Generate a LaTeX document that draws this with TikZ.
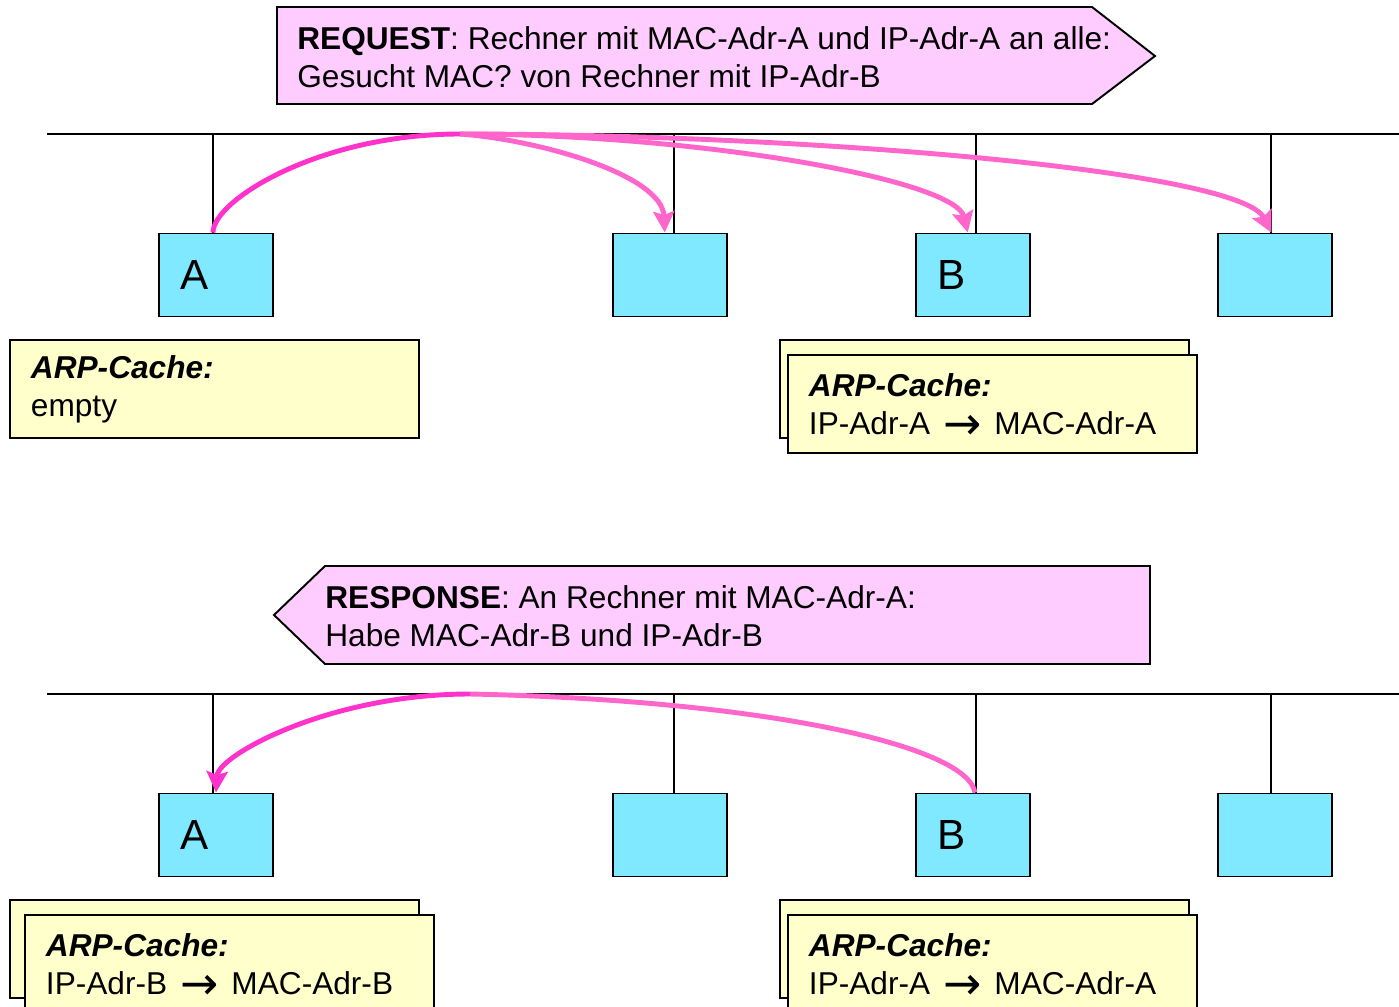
\documentclass[tikz,border=0pt]{standalone}
\usepackage{fontspec}
\setmainfont{Liberation Sans}
\newfontfamily\arrowfont{DejaVu Sans}
\usetikzlibrary{arrows.meta, positioning}
\definecolor{hostcyan}{HTML}{80E8FF}
\definecolor{msgpink}{HTML}{FFCCFF}
\definecolor{cacheyellow}{HTML}{FFFFCC}
\definecolor{framepink}{HTML}{FF66CC}
\definecolor{framemagenta}{HTML}{FF33CC}
\newcommand{\mapsarrow}{\hspace{0.26cm}\smash{\raisebox{-0.1cm}{\arrowfont\fontsize{26}{26}\selectfont →}}\hspace{0.26cm}}
\tikzset{
x=0.02cm, y=-0.02cm, % one unit is one pixel, y runs downwards
wire/.style={line width=1.1pt}, % bus and the drop lines
frame/.style={line width=2.8pt, framepink}, % the pink ARP frames
tip/.style={-{Stealth[length=12pt, width=12pt, inset=2pt]}}, % arrow head of a frame
}

\begin{document}
\begin{tikzpicture}[font=\fontsize{18}{21.6}\selectfont,
    host/.style = {draw, line width=1.1pt, fill=hostcyan, minimum width=2.28cm, minimum height=1.66cm,
                   inner xsep=0.42cm, text width=1.44cm, align=left, font=\fontsize{24}{28}\selectfont},
    cache/.style = {draw, line width=1.1pt, fill=cacheyellow, minimum width=8.18cm, minimum height=1.96cm,
                    inner xsep=0.42cm, text width=7.34cm, align=left},
    msg/.style = {draw, line width=1.1pt, fill=msgpink}]
    \useasboundingbox (0,0) rectangle (1399,1007);

    % request
    \draw[msg] (277,7) -- (1092,7) -- (1155,56) -- (1092,104) -- (277,104) -- cycle;
    \node[anchor=west, inner sep=0, align=left] (reqtext) at (297,57)
        {\textbf{REQUEST}: Rechner mit MAC-Adr-A und IP-Adr-A an alle:\\Gesucht MAC? von Rechner mit IP-Adr-B};

    \coordinate (bus1w) at (47,134);
    \coordinate (bus1e) at (1399,134);
    \coordinate (hub1) at (460,134);
    \draw[wire] (bus1w) -- (bus1e);

    \node[host] (a1) at (216,275) {A};
    \node[host] (n2) at (670,275) {};
    \node[host] (b1) at (973,275) {B};
    \node[host] (n4) at (1275,275) {};
    \foreach \h/\dx in {a1/-0.06cm, n2/0.08cm, b1/0.06cm, n4/-0.08cm}
        \draw[wire] ([xshift=\dx]\h.north) -- ([xshift=\dx]\h.north |- bus1w);

    \node[cache, anchor=north west] (ca1) at (9,339) {\textbf{\textit{ARP-Cache:}}\\empty};
    \node[cache, anchor=north west] (cb1back) at (779,339) {};
    \node[cache, anchor=north west] (cb1) at (787,354) {\textbf{\textit{ARP-Cache:}}\\IP-Adr-A\mapsarrow MAC-Adr-A};

    \draw[frame, framemagenta] ([xshift=-0.06cm]a1.north) .. controls (213,200) and (320,134) .. (hub1);
    \draw[frame, tip] (hub1) .. controls (540,140) and (662,175) .. (n2.97);
    \draw[frame, tip] (hub1) .. controls (700,134) and (955,180) .. (b1.97);
    \draw[frame, tip] (hub1) .. controls (800,134) and (1240,170) .. (n4.95);

    % response
    \draw[msg] (325,566) -- (1150,566) -- (1150,664) -- (325,664) -- (274,615) -- cycle;
    \node[anchor=west, inner sep=0, align=left] (resptext) at (325,616)
        {\textbf{RESPONSE}: An Rechner mit MAC-Adr-A:\\Habe MAC-Adr-B und IP-Adr-B};

    \coordinate (bus2w) at (47,694);
    \coordinate (bus2e) at (1399,694);
    \coordinate (hub2) at (470,694);
    \draw[wire] (bus2w) -- (bus2e);

    \node[host] (a2) at (216,835) {A};
    \node[host] (n6) at (670,835) {};
    \node[host] (b2) at (973,835) {B};
    \node[host] (n8) at (1275,835) {};
    \foreach \h/\dx in {a2/-0.06cm, n6/0.08cm, b2/0.06cm, n8/-0.08cm}
        \draw[wire] ([xshift=\dx]\h.north) -- ([xshift=\dx]\h.north |- bus2w);

    \node[cache, anchor=north west] (ca2back) at (9,899) {};
    \node[cache, anchor=north west] (ca2) at (24,914) {\textbf{\textit{ARP-Cache:}}\\IP-Adr-B\mapsarrow MAC-Adr-B};
    \node[cache, anchor=north west] (cb2back) at (779,899) {};
    \node[cache, anchor=north west] (cb2) at (787,914) {\textbf{\textit{ARP-Cache:}}\\IP-Adr-A\mapsarrow MAC-Adr-A};

    \draw[frame] ([xshift=0.04cm]b2.north) .. controls (967,745) and (760,700) .. (hub2);
    \draw[frame, framemagenta, tip] (hub2) .. controls (330,694) and (218,755) .. (a2.north);
\end{tikzpicture}
\end{document}
